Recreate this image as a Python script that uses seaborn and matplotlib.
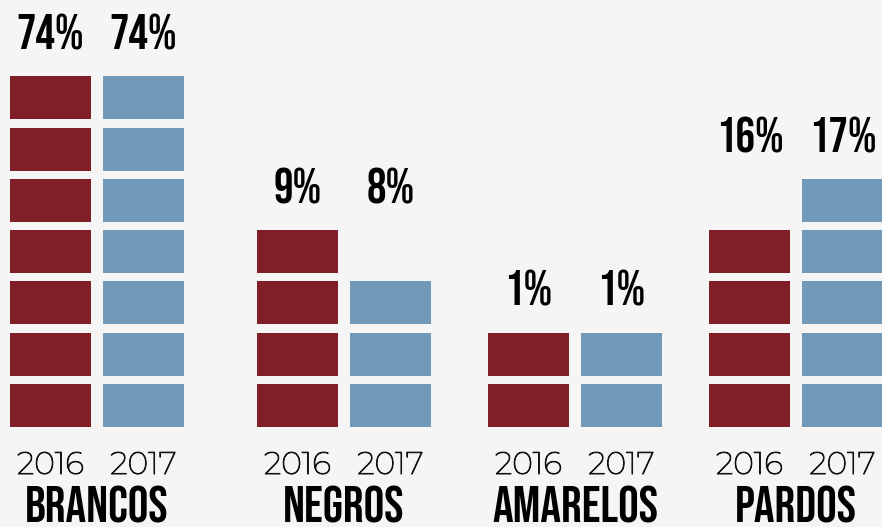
import pandas as pd
import matplotlib.pyplot as plt
import matplotlib.patheffects as pe
import seaborn as sns

# data
groups = ["BRANCOS", "NEGROS", "AMARELOS", "PARDOS"]
years = ["2016", "2017"]
pct_2016 = [74, 9, 1, 16]
pct_2017 = [74, 8, 1, 17]
blocks_2016 = [7, 4, 2, 4]
blocks_2017 = [7, 3, 2, 5]

# layout (pixel-like x units, one block per y unit)
group_x = [97, 344, 575, 796]
year_offset = {"2016": -46.5, "2017": 46.5}
colors = {"2016": "#811F28", "2017": "#729AB8"}
bg = "#F5F5F5"

rows = []
for i, g in enumerate(groups):
    for y, p, b in ((years[0], pct_2016[i], blocks_2016[i]),
                    (years[1], pct_2017[i], blocks_2017[i])):
        rows.append({"group": g, "year": y, "pct": p, "blocks": b,
                     "x": group_x[i] + year_offset[y]})
df = pd.DataFrame(rows)
# both labels of a group sit above its taller stack
df["label_y"] = df.groupby("group")["blocks"].transform("max")

sns.set_theme(style="white")
plt.rcParams["font.family"] = ["Bebas Neue", "DejaVu Sans"]

fig = plt.figure(figsize=(8.82, 5.27), dpi=100, facecolor=bg)
ax = fig.add_axes([0, 0, 1, 1])
ax.set_facecolor(bg)

# stacked blocks, one layer at a time
for k in range(df["blocks"].max()):
    layer = df[df["blocks"] > k]
    ax.bar(layer["x"], 0.838, width=81, bottom=k, align="center",
           color=[colors[y] for y in layer["year"]], linewidth=0)

# thin font is too faint, thicken it a little
thicken = [pe.withStroke(linewidth=0.7, foreground="#111111")]

for _, r in df.iterrows():
    ax.text(r["x"], r["label_y"] + 0.36, f"{r['pct']}%", ha="center",
            va="baseline", fontsize=35, color="black")
    ax.text(r["x"], -0.916, r["year"], ha="center", va="baseline",
            fontsize=22.5, family=["Montserrat", "DejaVu Sans"],
            color="#111111", path_effects=thicken)

for g, gx in zip(groups, group_x):
    ax.text(gx, -1.87, g, ha="center", va="baseline", fontsize=37,
            color="black")

ax.set_xlim(0, 882)
ax.set_ylim(-1.949, 8.324)
ax.axis("off")

fig.savefig("out.png", dpi=100, facecolor=bg)
